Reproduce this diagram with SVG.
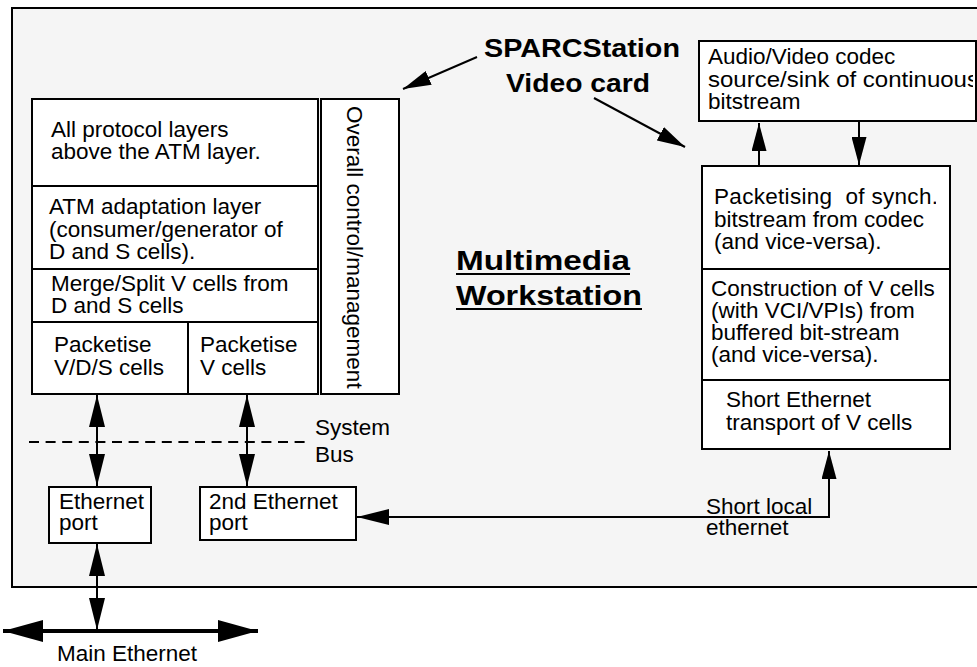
<svg xmlns="http://www.w3.org/2000/svg" width="977" height="667" viewBox="0 0 977 667">
  <style>
    .box { fill: #ffffff; stroke: #000000; stroke-width: 2; }
    .div { stroke: #000000; stroke-width: 2; fill: none; }
    .t { font-family: "Liberation Sans", Arial, Helvetica, sans-serif; font-size: 22.5px; fill: #000000; }
    .b { font-family: "Liberation Sans", Arial, Helvetica, sans-serif; font-weight: bold; fill: #000000; }
    .wire { stroke: #000000; stroke-width: 2; fill: none; }
    .heavy { stroke: #000000; stroke-width: 4; fill: none; }
  </style>
  <defs>
    <marker id="ah" markerUnits="userSpaceOnUse" viewBox="0 0 32 16" markerWidth="32" markerHeight="16" refX="32" refY="8" orient="auto-start-reverse">
      <path d="M0,0 L32,8 L0,16 z" fill="#000"/>
    </marker>
    <marker id="ahs" markerUnits="userSpaceOnUse" viewBox="0 0 28 15" markerWidth="28" markerHeight="15" refX="28" refY="7.5" orient="auto-start-reverse">
      <path d="M0,0 L28,7.5 L0,15 z" fill="#000"/>
    </marker>
    <marker id="ahl" markerUnits="userSpaceOnUse" viewBox="0 0 40 22" markerWidth="40" markerHeight="22" refX="40" refY="11" orient="auto-start-reverse">
      <path d="M0,0 L40,11 L0,22 z" fill="#000"/>
    </marker>
    <clipPath id="clipCodec"><rect x="699" y="41" width="274" height="80"/></clipPath>
    <clipPath id="clipPack"><rect x="702" y="166" width="234" height="103"/></clipPath>
  </defs>

  <rect x="0" y="0" width="977" height="667" fill="#ffffff"/>

  <!-- workstation enclosure -->
  <g id="workstation">
    <rect x="12" y="8" width="990" height="579" fill="#f5f5f5" stroke="#000" stroke-width="2"/>
    <text class="b" font-size="28" x="456" y="270" textLength="174" lengthAdjust="spacingAndGlyphs">Multimedia</text>
    <text class="b" font-size="28" x="456" y="305" textLength="186" lengthAdjust="spacingAndGlyphs">Workstation</text>
    <line x1="456" y1="274" x2="630" y2="274" class="div"/>
    <line x1="456" y1="309" x2="642" y2="309" class="div"/>
  </g>

  <!-- protocol stack on the host -->
  <g id="protocol-stack">
    <rect x="32" y="99" width="286" height="295" class="box"/>
    <line x1="32" y1="186" x2="318" y2="186" class="div"/>
    <line x1="32" y1="269" x2="318" y2="269" class="div"/>
    <line x1="32" y1="322" x2="318" y2="322" class="div"/>
    <line x1="188" y1="322" x2="188" y2="394" class="div"/>
    <text class="t" x="51" y="137">All protocol layers</text>
    <text class="t" x="51" y="159">above the ATM layer.</text>
    <text class="t" x="49" y="214">ATM adaptation layer</text>
    <text class="t" x="49" y="236.5">(consumer/generator of</text>
    <text class="t" x="49" y="259">D and S cells).</text>
    <text class="t" x="51" y="291">Merge/Split V cells from</text>
    <text class="t" x="51" y="313">D and S cells</text>
    <text class="t" x="54" y="352">Packetise</text>
    <text class="t" x="54" y="375">V/D/S cells</text>
    <text class="t" x="200" y="352">Packetise</text>
    <text class="t" x="200" y="375">V cells</text>
  </g>

  <g id="control">
    <rect x="321" y="99" width="78" height="295" class="box"/>
    <text class="t" x="347" y="106" transform="rotate(90 347 106)">Overall control/management</text>
  </g>

  <g id="sparc-label">
    <text class="b" font-size="26" x="484" y="57" textLength="196" lengthAdjust="spacingAndGlyphs">SPARCStation</text>
    <text class="b" font-size="26" x="506" y="92" textLength="144" lengthAdjust="spacingAndGlyphs">Video card</text>
  </g>

  <!-- video card -->
  <g id="codec">
    <rect x="699" y="41" width="277" height="80" class="box"/>
    <g clip-path="url(#clipCodec)">
      <text class="t" x="708" y="64">Audio/Video codec</text>
      <text class="t" x="708" y="87" textLength="271" lengthAdjust="spacingAndGlyphs">source/sink of continuous</text>
      <text class="t" x="708" y="109">bitstream</text>
    </g>
  </g>

  <g id="card-stack">
    <rect x="702" y="166" width="248" height="283" class="box"/>
    <line x1="702" y1="269" x2="950" y2="269" class="div"/>
    <line x1="702" y1="380" x2="950" y2="380" class="div"/>
    <text class="t" x="714" y="204" clip-path="url(#clipPack)" xml:space="preserve" textLength="224" lengthAdjust="spacing">Packetising  of synch.</text>
    <text class="t" x="714" y="226.5">bitstream from codec</text>
    <text class="t" x="714" y="249">(and vice-versa).</text>
    <text class="t" x="711" y="296">Construction of V cells</text>
    <text class="t" x="711" y="318">(with VCI/VPIs) from</text>
    <text class="t" x="711" y="340">buffered bit-stream</text>
    <text class="t" x="711" y="362">(and vice-versa).</text>
    <text class="t" x="726" y="407">Short Ethernet</text>
    <text class="t" x="726" y="430">transport of V cells</text>
  </g>

  <!-- ports and bus -->
  <g id="ethernet-port">
    <rect x="49" y="487" width="102" height="56" class="box"/>
    <text class="t" x="59" y="509">Ethernet</text>
    <text class="t" x="59" y="530">port</text>
  </g>

  <g id="second-ethernet-port">
    <rect x="200" y="487" width="156" height="53" class="box"/>
    <text class="t" x="209" y="509">2nd Ethernet</text>
    <text class="t" x="209" y="530">port</text>
  </g>

  <g id="system-bus">
    <line x1="29" y1="442" x2="311" y2="442" stroke="#000" stroke-width="2" stroke-dasharray="10 6.6"/>
    <text class="t" x="315" y="435">System</text>
    <text class="t" x="315" y="462">Bus</text>
  </g>

  <g id="main-ethernet">
    <text class="t" font-size="25" x="57" y="661">Main Ethernet</text>
  </g>

  <g id="short-local-label">
    <text class="t" x="706" y="514">Short local</text>
    <text class="t" x="706" y="535">ethernet</text>
  </g>

  <!-- connectors -->
  <g id="connectors">
    <line x1="477" y1="57" x2="403" y2="89" class="wire" marker-end="url(#ahs)"/>
    <line x1="594" y1="98" x2="685" y2="147" class="wire" marker-end="url(#ahs)"/>
    <line x1="759" y1="166" x2="759" y2="123" class="wire" marker-end="url(#ahs)"/>
    <line x1="859" y1="122" x2="859" y2="165" class="wire" marker-end="url(#ahs)"/>
    <line x1="97" y1="395" x2="97" y2="486" class="wire" marker-start="url(#ah)" marker-end="url(#ah)"/>
    <line x1="247" y1="395" x2="247" y2="486" class="wire" marker-start="url(#ah)" marker-end="url(#ah)"/>
    <line x1="97" y1="544" x2="97" y2="630" class="wire" marker-start="url(#ah)" marker-end="url(#ah)"/>
    <path d="M357,517 H829 V451" class="wire" marker-start="url(#ah)" marker-end="url(#ahs)"/>
    <line x1="3" y1="631" x2="258" y2="631" class="heavy" marker-start="url(#ahl)" marker-end="url(#ahl)"/>
  </g>
</svg>
